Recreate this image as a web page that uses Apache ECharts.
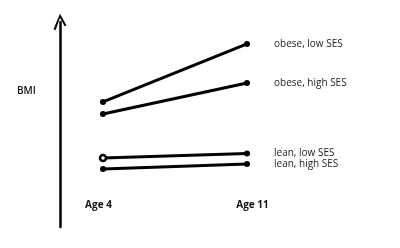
<!DOCTYPE html>
<html><head><meta charset="utf-8">
<script src="https://cdn.jsdelivr.net/npm/echarts@6/dist/echarts.min.js"></script>
<style>html,body{margin:0;padding:0;background:#fff}#c{width:400px;height:248px}</style>
</head><body><div id="c"></div>
<script>
const ages = [4, 11];
const seriesNames = ['obese, low SES', 'obese, high SES', 'lean, low SES', 'lean, high SES'];
const obeseLow = [61.0, 89.3];
const obeseHigh = [55.1, 70.2];
const leanLow = [33.7, 35.9];
const leanHigh = [28.3, 30.7];
const values = [obeseLow, obeseHigh, leanLow, leanHigh];

const font = 'Open Sans';
const chart = echarts.init(document.getElementById('c'), null, {renderer: 'canvas'});
chart.setOption({
  animation: false,
  title: {text: 'BMI', left: 12, top: 81, textStyle: {fontFamily: font, fontSize: 10, fontWeight: 600, color: '#111'}},
  grid: {left: 103, right: 153, top: 22, bottom: 21, containLabel: false},
  xAxis: {
    type: 'value', min: 4, max: 11, interval: 7, offset: -31,
    axisLine: {show: false}, axisTick: {show: false}, splitLine: {show: false},
    axisLabel: {
      formatter: v => (v === 4 ? '{l|Age ' + v + '}' : '{r|Age ' + v + '}'),
      margin: 4,
      rich: {
        l: {padding: [0, 9, 0, 0], fontFamily: font, fontSize: 10, fontWeight: 'bold', color: '#111'},
        r: {padding: [0, 0, 0, 11], fontFamily: font, fontSize: 10, fontWeight: 'bold', color: '#111'}
      }
    }
  },
  yAxis: {
    type: 'value', min: 0, max: 100, offset: 43,
    splitLine: {show: false}, axisTick: {show: false}, axisLabel: {show: false},
    axisLine: {show: true, lineStyle: {color: '#000', width: 2.5},
      symbol: ['none', 'path://M0,12 L5,0 L10,9 L8.6,9.6 L5,3.2 L1.6,12.8 Z'], symbolSize: [13, 22], symbolOffset: [0, 0]}
  },
  series: values.map((v, i) => ({
    type: 'line', name: seriesNames[i],
    data: ages.map((a, j) => {
      const item = {value: [a, v[j]]};
      if (i === 2 && j === 0) item.itemStyle = {color: '#fff', borderColor: '#000', borderWidth: 2.5};
      return item;
    }),
    symbol: 'circle', symbolSize: 6,
    lineStyle: {color: '#000', width: 3},
    itemStyle: {color: '#000'},
    endLabel: {show: true, formatter: seriesNames[i], distance: 27, fontFamily: font, fontSize: 10, color: '#222'}
  }))
});
</script></body></html>
